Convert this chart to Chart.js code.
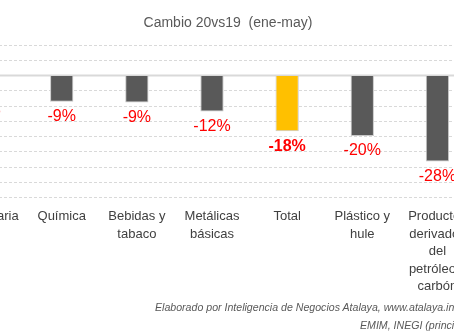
<!DOCTYPE html>
<html>
<head>
<meta charset="utf-8">
<script src="https://cdn.jsdelivr.net/npm/chart.js@4/dist/chart.umd.min.js"></script>
<style>
html,body{margin:0;padding:0;background:#fff;overflow:hidden;width:454px;height:333px;}
#wrap{position:absolute;left:-70px;top:0;width:600px;height:333px;}
#title{position:absolute;left:0;top:14px;width:456px;text-align:center;font:14px "Liberation Sans",Arial,sans-serif;color:#595959;white-space:pre;}
.foot{position:absolute;font:italic 10.6px "Liberation Sans",Arial,sans-serif;color:#595959;white-space:nowrap;}
</style>
</head>
<body>
<div id="wrap"><canvas id="c" width="600" height="333" style="width:600px;height:333px;"></canvas></div>
<div id="title">Cambio 20vs19  (ene-may)</div>
<div class="foot" style="left:155px;top:301px;">Elaborado por Inteligencia de Negocios Atalaya, www.atalaya.inegocios.com con datos de la</div>
<div class="foot" style="left:360px;top:319px;">EMIM, INEGI (principales sectores)</div>
<script>
const categories = [
  ['Maquinaria'],
  ['Química'],
  ['Bebidas y', 'tabaco'],
  ['Metálicas', 'básicas'],
  ['Total'],
  ['Plástico y', 'hule'],
  ['Productos', 'derivados', 'del', 'petróleo y', 'carbón']
];
const values = [-6.5, -8.6, -8.8, -11.8, -18.2, -19.8, -28.1];
const valueLabels = ['-7%', '-9%', '-9%', '-12%', '-18%', '-20%', '-28%'];
const highlightIndex = 4;

const barColors = values.map((v, i) => i === highlightIndex ? '#FFC000' : '#595959');

const labelPlugin = {
  id: 'valueLabels',
  afterDatasetsDraw(chart) {
    const ctx = chart.ctx;
    const meta = chart.getDatasetMeta(0);
    ctx.save();
    ctx.fillStyle = '#FF0000';
    ctx.textAlign = 'center';
    ctx.textBaseline = 'middle';
    meta.data.forEach((bar, i) => {
      ctx.font = (i === highlightIndex ? 'bold ' : '') + '16px "Liberation Sans", Arial, sans-serif';
      ctx.fillText(valueLabels[i], bar.x, bar.y + 15);
    });
    ctx.restore();
  }
};

const zeroLinePlugin = {
  id: 'zeroLine',
  beforeDatasetsDraw(chart) {
    const y = chart.scales.y.getPixelForValue(0);
    const ctx = chart.ctx;
    ctx.save();
    ctx.strokeStyle = '#d9d9d9';
    ctx.lineWidth = 2;
    ctx.beginPath();
    ctx.moveTo(chart.chartArea.left, y);
    ctx.lineTo(chart.chartArea.right, y);
    ctx.stroke();
    ctx.restore();
  }
};

new Chart(document.getElementById('c'), {
  type: 'bar',
  data: {
    labels: categories,
    datasets: [{
      data: values,
      backgroundColor: barColors,
      borderColor: '#c8c8c8',
      borderWidth: 1,
      categoryPercentage: 1,
      barPercentage: 0.31
    }]
  },
  options: {
    responsive: false,
    animation: false,
    events: [],
    devicePixelRatio: 1,
    layout: { padding: { left: 19, right: 55, top: 45, bottom: 27.5 } },
    plugins: { legend: { display: false }, tooltip: { enabled: false }, title: { display: false } },
    scales: {
      x: {
        grid: { display: false, drawTicks: false },
        border: { display: false },
        ticks: {
          color: '#404040',
          padding: 10,
          maxRotation: 0,
          autoSkip: false,
          font: { family: '"Liberation Sans", Arial, sans-serif', size: 13, lineHeight: 1.35 }
        }
      },
      y: {
        min: -40, max: 10,
        ticks: { display: false, stepSize: 5 },
        grid: { color: '#d9d9d9', lineWidth: 1, drawTicks: false },
        border: { display: false, dash: [3, 2] }
      }
    }
  },
  plugins: [zeroLinePlugin, labelPlugin]
});
</script>
</body>
</html>
